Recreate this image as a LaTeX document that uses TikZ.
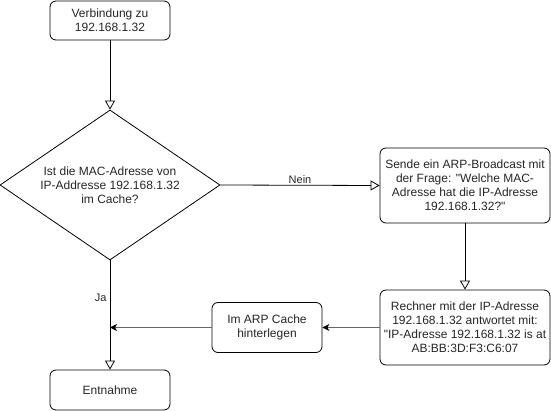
\documentclass[tikz,border=0pt]{standalone}
\usepackage{fontspec}
\setmainfont{Liberation Sans}[Ligatures=TeXOff]
\usetikzlibrary{arrows.meta,shapes.geometric}

\begin{document}
\begin{tikzpicture}[
  x=1pt, y=-1pt,
  font=\fontsize{12}{14}\selectfont,
  box/.style={draw=black, line width=0.8pt, fill=white, rounded corners=6pt,
              align=center, inner sep=0pt, text=black!85},
  dec/.style={draw=black, line width=0.8pt, diamond, aspect=1.47,
              minimum width=220pt, minimum height=150pt, inner sep=0pt,
              align=center, text=black!85},
  flow/.style={line width=0.8pt, -{Triangle[open,length=9pt,width=10pt]}},
  back/.style={line width=0.8pt, draw=black!60,
               -{Stealth[length=7pt,width=7pt,inset=2pt,color=black]}},
  lbl/.style={font=\fontsize{11}{13}\selectfont, text=black!85},
]
\useasboundingbox (0,0) rectangle (551,411);

% ---- nodes ----
\node[box, minimum width=120pt, minimum height=39pt] (start) at (110,20.5)
  {Verbindung zu\\192.168.1.32};
\node[dec] (check) at (110,185)
  {Ist die MAC-Adresse von\\IP-Addresse 192.168.1.32\\im Cache?};
\node[box, minimum width=170pt, minimum height=75pt] (bcast) at (465,185.5)
  {Sende ein ARP-Broadcast mit\\der Frage: "Welche MAC-\\Adresse hat die IP-Adresse\\192.168.1.32?"};
\node[box, minimum width=170pt, minimum height=75pt] (reply) at (465,327.5)
  {Rechner mit der IP-Adresse\\192.168.1.32 antwortet mit:\\"IP-Adresse 192.168.1.32 is at\\AB:BB:3D:F3:C6:07};
\node[box, minimum width=110pt, minimum height=50pt] (store) at (267,327.5)
  {Im ARP Cache\\hinterlegen};
\node[box, minimum width=120pt, minimum height=40pt] (done) at (110,390)
  {Entnahme};
\coordinate (merge) at (110,327.5);

% ---- edges ----
\draw[flow] (start.south) -- (check.north);
\draw[flow] (check.east) -- node[lbl, above, inner sep=1pt] {Nein} (bcast.west);
\draw[flow] (bcast.south) -- (reply.north);
\draw[back] (reply.west) -- (store.east);
\draw[back] (store.west) -- (merge);
\draw[flow] (check.south) -- node[lbl, left, pos=0.34, inner sep=3pt] {Ja} (done.north);

\end{tikzpicture}
\end{document}
